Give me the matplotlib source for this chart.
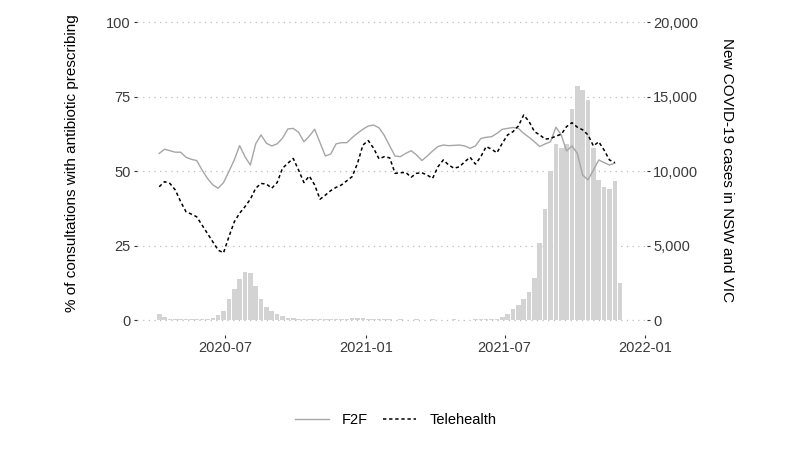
import matplotlib
matplotlib.use('Agg')
import matplotlib.pyplot as plt
import matplotlib.dates as mdates
import pandas as pd
from matplotlib.ticker import FuncFormatter
from matplotlib.lines import Line2D

plt.rcParams['font.family'] = ['Liberation Sans', 'DejaVu Sans']

# ---------------- data ----------------
week_start = '2020-04-06'
covid_cases = [380, 200, 100, 80, 90, 80, 70, 60, 70, 100,
               160, 340, 600, 1390, 2060, 2780, 3250, 3180, 2290, 1390,
               900, 600, 400, 270, 150, 110, 80, 100, 80, 70,
               60, 60, 50, 60, 70, 90, 140, 130, 120, 100,
               80, 60, 50, 50, 40, 50, 40, 40, 50, 40,
               40, 50, 40, 40, 40, 50, 40, 40, 40, 50,
               60, 70, 60, 90, 200, 420, 720, 1010, 1390, 1880,
               2840, 5150, 7480, 10010, 11800, 11580, 11850, 14160, 15720, 15440,
               14760, 11580, 9430, 8940, 8830, 9340, 2470]

f2f = [56.0, 57.4, 56.9, 56.4, 56.4, 54.7, 54.0, 53.6, 50.4, 47.6,
       45.4, 44.3, 46.2, 49.9, 53.8, 58.6, 54.9, 52.1, 59.2, 62.2,
       59.4, 58.5, 59.2, 61.1, 64.2, 64.4, 63.1, 59.9, 61.8, 64.1,
       59.6, 55.1, 55.8, 59.2, 59.6, 59.6, 61.3, 62.8, 64.1, 65.2,
       65.5, 64.6, 62.0, 58.5, 55.1, 54.9, 56.0, 56.9, 55.5, 53.6,
       55.1, 56.8, 58.3, 58.8, 58.6, 58.7, 58.8, 58.5, 57.7, 58.5,
       61.0, 61.4, 61.6, 62.7, 64.1, 64.4, 64.7, 64.4, 62.7, 61.4,
       59.9, 58.3, 59.2, 59.9, 64.8, 62.2, 56.8, 58.5, 56.0, 48.7,
       47.1, 50.4, 53.8, 52.9, 52.1, 52.7]

telehealth = [44.8, 46.5, 45.9, 43.7, 39.8, 36.4, 35.6, 34.7, 31.9, 29.1,
              26.3, 23.5, 22.6, 28.0, 33.0, 35.9, 38.1, 40.6, 44.3, 45.9,
              45.7, 44.3, 46.2, 51.0, 52.7, 54.3, 50.4, 46.2, 48.4, 45.4,
              40.6, 42.0, 43.5, 44.6, 45.4, 46.8, 48.2, 52.7, 58.8, 60.3,
              57.7, 54.2, 54.9, 54.5, 49.3, 49.5, 49.6, 48.0, 49.3, 49.5,
              48.7, 47.6, 51.5, 53.8, 52.1, 51.0, 51.5, 53.2, 54.7, 52.4,
              54.9, 58.3, 57.4, 56.2, 59.4, 62.2, 63.3, 65.2, 68.9, 66.7,
              63.3, 62.2, 60.8, 61.0, 61.8, 62.4, 65.0, 66.3, 64.8, 63.9,
              62.2, 58.5, 59.9, 57.1, 53.8, 52.9]

left_ticks = [0, 25, 50, 75, 100]
right_ticks = [0, 5000, 10000, 15000, 20000]
series_labels = ['F2F', 'Telehealth']
left_title = '% of consultations with antibiotic prescribing'
right_title = 'New COVID-19 cases in NSW and VIC'

weeks = pd.date_range(week_start, periods=len(covid_cases), freq='7D').to_pydatetime()
line_weeks = weeks[:len(f2f)]

# ---------------- figure ----------------
W, H = 800, 457
fig = plt.figure(figsize=(W / 100, H / 100), dpi=100)
ax = fig.add_axes([137 / W, 1 - 335 / H, 510 / W, (335 - 7.5) / H])
ax2 = ax.twinx()
ax.set_zorder(ax2.get_zorder() + 1)
ax.patch.set_visible(False)

tick_col = '#3A3A3A'

# bars (right axis)
ax2.bar(weeks, covid_cases, width=6.0, color='#D3D3D3', zorder=2)
ax2.set_ylim(-1000, 21000)
ax2.set_yticks(right_ticks)
ax2.yaxis.set_major_formatter(FuncFormatter(lambda v, p: f'{int(v):,}'))
ax2.grid(axis='y', color='#BDBDBD', linestyle=(0, (1, 3.5)), linewidth=0.9)
ax2.set_axisbelow(True)

# lines (left axis)
ax.plot(line_weeks, f2f, color='#A6A6A6', lw=1.0, label=series_labels[0])
ax.plot(line_weeks, telehealth, color='black', lw=1.1,
        linestyle=(0, (2.2, 1.8)), label=series_labels[1])
ax.set_ylim(-5, 105)
ax.set_yticks(left_ticks)

ax.set_xlim(mdates.date2num(pd.Timestamp('2020-03-08')),
            mdates.date2num(pd.Timestamp('2022-01-03')))
ax.xaxis.set_major_locator(mdates.MonthLocator(bymonth=[1, 7]))
ax.xaxis.set_major_formatter(mdates.DateFormatter('%Y-%m'))

for a in (ax, ax2):
    for s in a.spines.values():
        s.set_visible(False)
    a.tick_params(length=2.5, width=0.8, color='#333333', labelcolor=tick_col,
                  labelsize=10.5, pad=2)

fig.text(72 / W, 1 - 163 / H, left_title, rotation=90, ha='center', va='center',
         fontsize=11, color='black')
fig.text(727 / W, 1 - 170 / H, right_title, rotation=270, ha='center', va='center',
         fontsize=11, color='black')

handles = [Line2D([], [], color='#A6A6A6', lw=1.0),
           Line2D([], [], color='black', lw=1.1, linestyle=(0, (2.2, 1.8)))]
fig.legend(handles, series_labels, loc='center', bbox_to_anchor=(0.495, 1 - 420 / H),
           ncol=2, frameon=False, handlelength=2.3, handletextpad=0.9,
           columnspacing=1.0, fontsize=10.5)

fig.savefig('out.png', dpi=100)
